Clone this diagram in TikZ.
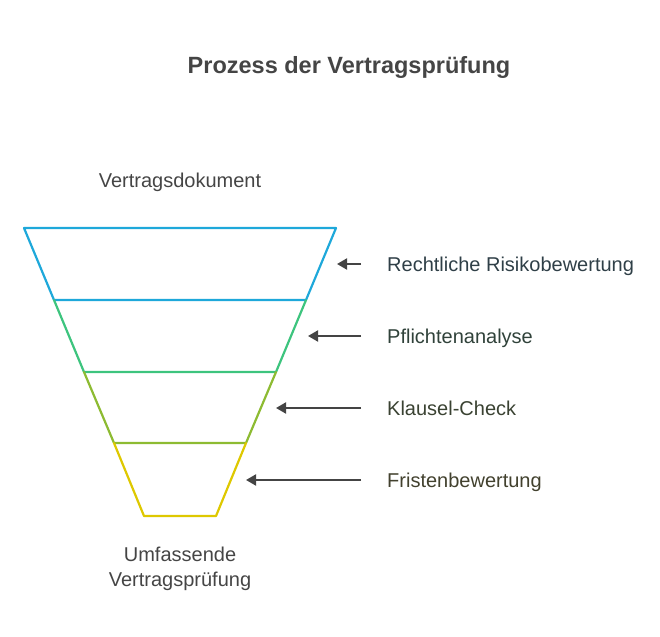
\documentclass[tikz,border=0pt]{standalone}
\usepackage{fontspec}
\setmainfont{Liberation Sans}
\usetikzlibrary{arrows.meta}
\definecolor{cblue}{HTML}{1EA8DA}
\definecolor{cgreen}{HTML}{3DC47E}
\definecolor{clime}{HTML}{8DBB32}
\definecolor{cyellow}{HTML}{DEC800}
\definecolor{ctext}{HTML}{454545}
\definecolor{carrow}{HTML}{444444}
\definecolor{tblue}{HTML}{2F3F47}
\definecolor{tgreen}{HTML}{30423A}
\definecolor{tlime}{HTML}{3A4232}
\definecolor{tyellow}{HTML}{42412E}
\tikzset{
  seg/.style={line width=2.2pt, line cap=round, line join=round},
  pointer/.style={line width=2pt, color=carrow, -{Triangle[length=10pt,width=11pt]}},
  lbl/.style={font=\fontsize{20}{24}\selectfont, inner sep=0pt, anchor=base west},
  ctr/.style={font=\fontsize{20}{25}\selectfont, color=ctext, inner sep=0pt, anchor=base, align=center},
}
\begin{document}
\begin{tikzpicture}[x=1pt,y=-1pt]
\useasboundingbox (0,0) rectangle (660,636);
% funnel corners
\coordinate (L0) at (24,228);  \coordinate (R0) at (336,228);
\coordinate (L1) at (54,300);  \coordinate (R1) at (306,300);
\coordinate (L2) at (84,372);  \coordinate (R2) at (276,372);
\coordinate (L3) at (114,443); \coordinate (R3) at (246,443);
\coordinate (L4) at (144,516); \coordinate (R4) at (216,516);
\draw[seg, cblue] (L1) -- (L0) -- (R0) -- (R1) -- cycle;
\draw[seg, cgreen] (L1) -- (L2) -- (R2) -- (R1);
\draw[seg, clime] (L2) -- (L3) -- (R3) -- (R2);
\draw[seg, cyellow] (L3) -- (L4) -- (R4) -- (R3);
% title
\node[font=\fontsize{23.5}{28}\selectfont\bfseries, color=ctext, inner sep=0pt, anchor=base] (title) at (349,74) {Prozess der Vertragsprüfung};
\node[ctr] (top) at (180,188) {Vertragsdokument};
\node[ctr] (bottom) at (180,586) {Umfassende\\Vertragsprüfung};
% labels
\node[lbl, color=tblue] (l1) at (387,271) {Rechtliche Risikobewertung};
\node[lbl, color=tgreen] (l2) at (387,343) {Pflichtenanalyse};
\node[lbl, color=tlime] (l3) at (387,415) {Klausel-Check};
\node[lbl, color=tyellow] (l4) at (387,487) {Fristenbewertung};
% arrows
\coordinate (a1s) at (361,264); \coordinate (a1e) at (337,264);
\coordinate (a2s) at (361,336); \coordinate (a2e) at (308,336);
\coordinate (a3s) at (361,408); \coordinate (a3e) at (276,408);
\coordinate (a4s) at (361,480); \coordinate (a4e) at (246,480);
\draw[pointer] (a1s) -- (a1e);
\draw[pointer] (a2s) -- (a2e);
\draw[pointer] (a3s) -- (a3e);
\draw[pointer] (a4s) -- (a4e);
\end{tikzpicture}
\end{document}
